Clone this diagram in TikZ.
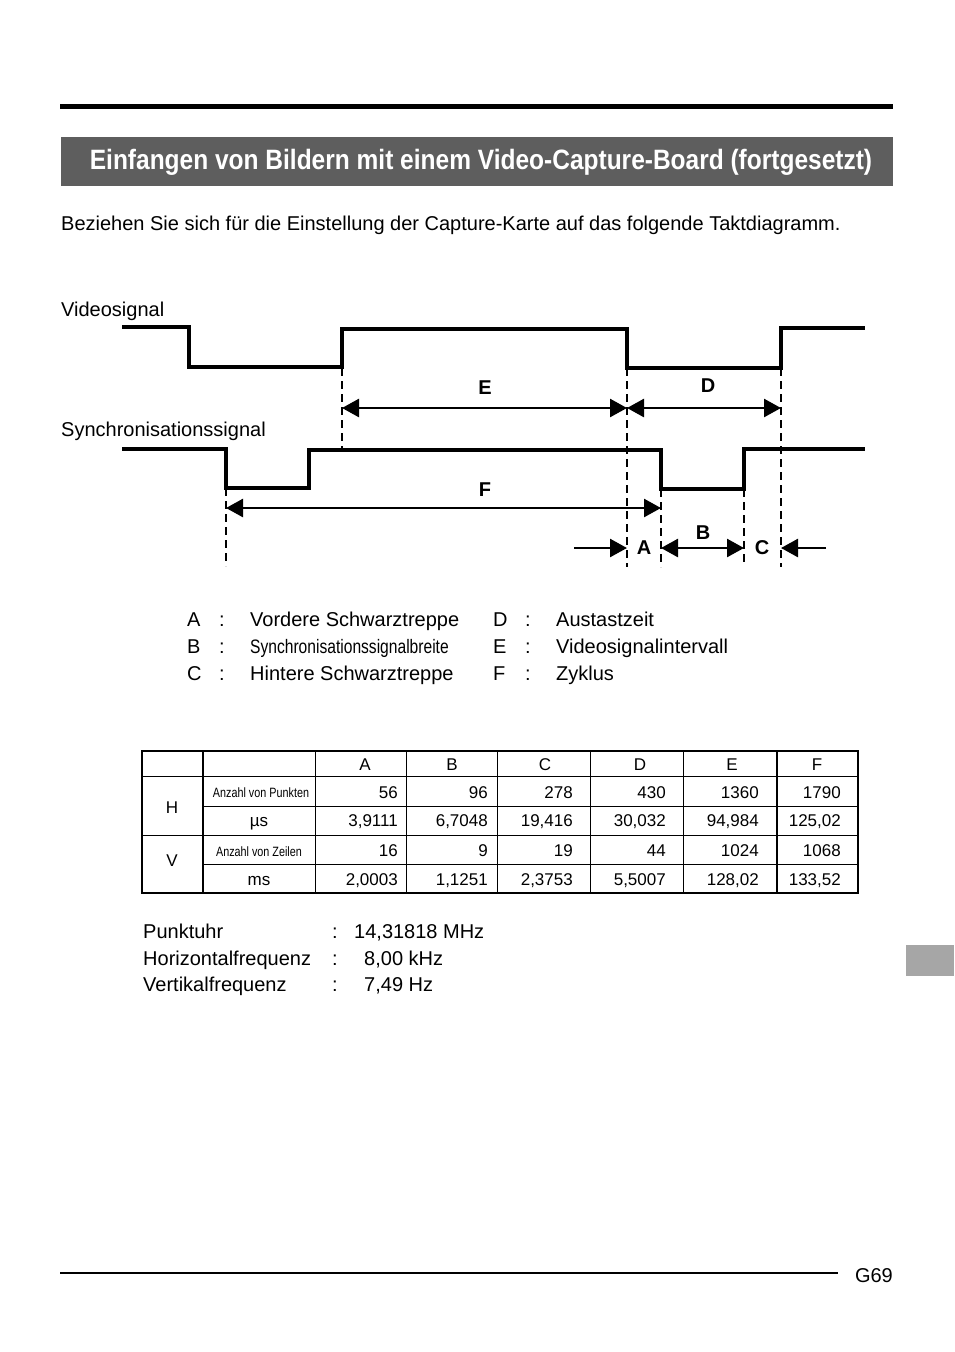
\documentclass[tikz,border=0pt]{standalone}
\usepackage{fontspec}
\setmainfont{Liberation Sans}
\newfontfamily\narrowfont[FakeStretch=0.8]{Liberation Sans}
\newfontfamily\titlefont[FakeStretch=0.875]{Liberation Sans}
\usetikzlibrary{arrows.meta,positioning}

\definecolor{headgray}{HTML}{5E5E5E}
\definecolor{tabgray}{HTML}{A6A6A6}

\begin{document}
\begin{tikzpicture}[x=1pt,y=-1pt,
  wave/.style={line width=3.6pt},
  guide/.style={line width=2.8pt,dash pattern=on 8pt off 5pt},
  dim/.style={line width=2.6pt,-{Triangle[length=17pt,width=18pt]}},
  dimboth/.style={line width=2.6pt,{Triangle[length=17pt,width=18pt]}-{Triangle[length=17pt,width=18pt]}},
  tag/.style={font=\fontsize{20}{22}\selectfont\bfseries,inner sep=0pt},
  txt/.style={font=\fontsize{20}{24}\selectfont,inner sep=0pt,anchor=base west},
  head/.style={font=\fontsize{17}{20}\selectfont,inner sep=0pt,anchor=base},
  num/.style={font=\fontsize{17}{20}\selectfont,inner sep=0pt,anchor=base east},
  small/.style={font=\narrowfont\fontsize{13.5}{16}\selectfont,inner sep=0pt,anchor=base}]
\useasboundingbox (0,0) rectangle (954,1352);

% header
\fill (60,104) rectangle (893,109);
\fill[headgray] (61,137) rectangle (893,186);
\node[text=white,inner sep=0pt,font=\titlefont\fontsize{28}{32}\selectfont\bfseries]
  (title) at (481,162) {Einfangen von Bildern mit einem Video-Capture-Board (fortgesetzt)};
\node[txt] (intro) at (61,230) {Beziehen Sie sich für die Einstellung der Capture-Karte auf das folgende Taktdiagramm.};

% signals
\node[txt] (lblvideo) at (61,316) {Videosignal};
\node[txt] (lblsync) at (61,436) {Synchronisationssignal};

\coordinate (vr1) at (342,368);
\coordinate (vf2) at (627,368);
\coordinate (vr2) at (781,368);
\coordinate (sf1) at (226,488);
\coordinate (sf2) at (661,489);
\coordinate (sr2) at (744,489);
\coordinate (rowED) at (0,408);
\coordinate (rowF) at (0,508);
\coordinate (rowABC) at (0,548);

\draw[wave] (122,327) -| (189,367) -| (342,329) -| (627,368) -| (781,328) -- (865,328);
\draw[wave] (122,449) -| (226,488) -| (309,450) -| (661,489) -| (744,449) -- (865,449);

\draw[guide] (vr1) -- ++(0,82);
\draw[guide] (sf1) -- ++(0,78);
\draw[guide] (vf2) -- ++(0,199);
\draw[guide] (sf2) -- ++(0,78);
\draw[guide] (sr2) -- ++(0,73);
\draw[guide] (vr2) -- ++(0,199);

% spans
\draw[dimboth] (vr1 |- rowED) -- (vf2 |- rowED);
\draw[dimboth] (vf2 |- rowED) -- (vr2 |- rowED);
\draw[dimboth] (sf1 |- rowF) -- (sf2 |- rowF);
\draw[dimboth] (sf2 |- rowABC) -- (sr2 |- rowABC);
\draw[dim] (574,548) -- (vf2 |- rowABC);
\draw[dim] (826,548) -- (vr2 |- rowABC);

\node[tag] (tE) at (485,388) {E};
\node[tag] (tD) at (708,386) {D};
\node[tag] (tF) at (485,490) {F};
\node[tag] (tA) at (644,548) {A};
\node[tag] (tB) at (703,533) {B};
\node[tag] (tC) at (762,548) {C};

% legend
\foreach \k/\t/\y in {A/Vordere Schwarztreppe/626,C/Hintere Schwarztreppe/680}{
  \node[txt] (key\k) at (187,\y) {\k};
  \node[txt] at (219,\y) {:};
  \node[txt] (desc\k) at (250,\y) {\t};
}
\node[txt] (keyB) at (187,653) {B};
\node[txt] at (219,653) {:};
\node[txt,font=\narrowfont\fontsize{19.5}{22}\selectfont] (descB) at (250,653) {Synchronisationssignalbreite};
\foreach \k/\t/\y in {D/Austastzeit/626,E/Videosignalintervall/653,F/Zyklus/680}{
  \node[txt] (key\k) at (493,\y) {\k};
  \node[txt] at (525,\y) {:};
  \node[txt] (desc\k) at (556,\y) {\t};
}

% table
\draw[line width=2pt] (142,751) rectangle (858,893);
\foreach \y in {776,835} \draw[line width=1pt] (142,\y) -- (858,\y);
\foreach \y in {806,864} \draw[line width=1pt] (203,\y) -- (858,\y);
\foreach \x in {315,406,497,590,683} \draw[line width=1pt] (\x,751) -- (\x,893);
\foreach \x in {203,777} \draw[line width=2pt] (\x,751) -- (\x,893);

\foreach \c/\x in {A/365,B/452,C/545,D/640,E/732,F/817}
  \node[head] (col\c) at (\x,770) {\c};
\node[font=\fontsize{17}{20}\selectfont] (rowH) at (172,808) {H};
\node[font=\fontsize{17}{20}\selectfont] (rowV) at (172,861) {V};
\node[small] (unitH) at (261,797) {Anzahl von Punkten};
\node[head] (usH) at (259,826) {µs};
\node[small] (unitV) at (259,856) {Anzahl von Zeilen};
\node[head] (msV) at (259,885) {ms};

\foreach \v/\x [count=\i] in {56/398,96/488,278/573,430/666,1360/759,1790/841}
  \node[num] (a\i) at (\x,798) {\v};
\foreach \v/\x [count=\i] in {{3,9111}/398,{6,7048}/488,{19,416}/573,{30,032}/666,{94,984}/759,{125,02}/841}
  \node[num] (b\i) at (\x,826) {\v};
\foreach \v/\x [count=\i] in {16/398,9/488,19/573,44/666,1024/759,1068/841}
  \node[num] (c\i) at (\x,856) {\v};
\foreach \v/\x [count=\i] in {{2,0003}/398,{1,1251}/488,{2,3753}/573,{5,5007}/666,{128,02}/759,{133,52}/841}
  \node[num] (d\i) at (\x,885) {\v};

% clock data
\node[txt] (clk) at (143,938) {Punktuhr};
\node[txt] (hfreq) at (143,965) {Horizontalfrequenz};
\node[txt] (vfreq) at (143,991) {Vertikalfrequenz};
\foreach \y in {938,965,991} \node[txt] at (332,\y) {:};
\node[txt] (clkval) at (354,938) {14,31818 MHz};
\node[txt] (hval) at (364,965) {8,00 kHz};
\node[txt] (vval) at (364,991) {7,49 Hz};

% side tab and footer
\fill[tabgray] (906,945) rectangle (954,976);
\draw[line width=2pt] (60,1273) -- (838,1273);
\node[txt,anchor=base east] (page) at (893,1282) {G69};
\end{tikzpicture}
\end{document}
